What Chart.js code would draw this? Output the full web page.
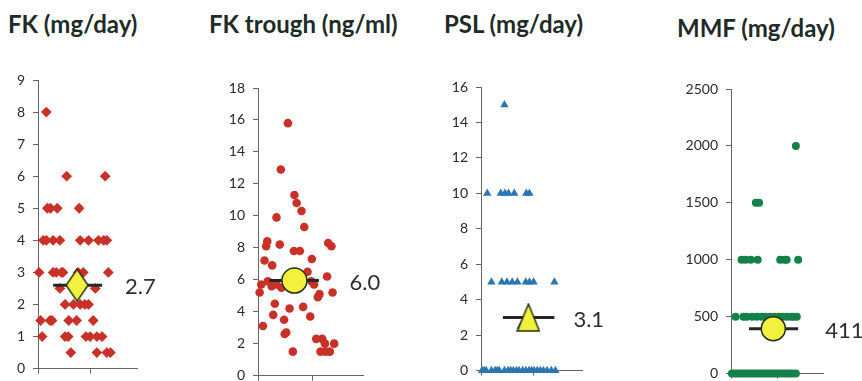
<!DOCTYPE html>
<html>
<head>
<meta charset="utf-8">
<script src="https://cdn.jsdelivr.net/npm/chart.js@4.4.1/dist/chart.umd.min.js"></script>
<style>
  body { margin: 0; width: 862px; height: 381px; overflow: hidden; background: #fff; position: relative; }
  .title { position: absolute; font: bold 24px Lato; line-height: 24px; color: #1e2b27; white-space: nowrap; }
  canvas { position: absolute; }
</style>
</head>
<body>
<div class="title" style="left:8px;top:12px">FK (mg/day)</div>
<div class="title" style="left:209px;top:12px">FK trough (ng/ml)</div>
<div class="title" style="left:444px;top:12px">PSL (mg/day)</div>
<div class="title" style="left:677px;top:16px">MMF (mg/day)</div>
<canvas id="fk"></canvas>
<canvas id="trough"></canvas>
<canvas id="psl"></canvas>
<canvas id="mmf"></canvas>
<script>
// [jitter x, value] pairs
const fkDose = [
    [0.16, 8],
    [0.55, 6], [1.29, 6],
    [0.18, 5], [0.24, 5], [0.37, 5], [0.79, 5],
    [0.10, 4], [0.16, 4], [0.29, 4], [0.42, 4], [0.81, 4], [0.97, 4], [1.16, 4], [1.26, 4], [1.32, 4],
    [0.02, 3], [0.29, 3], [0.35, 3], [0.45, 3], [0.48, 3], [0.77, 3], [0.87, 3], [1.35, 3],
    [0.42, 2.5], [1.10, 2.5],
    [0.52, 2], [0.68, 2], [0.81, 2], [0.90, 2], [0.97, 2],
    [0.05, 1.5], [0.23, 1.5], [0.27, 1.5], [0.59, 1.5], [0.74, 1.5], [1.06, 1.5],
    [0.08, 1], [0.52, 1], [0.58, 1], [0.92, 1], [1.00, 1], [1.13, 1], [1.23, 1],
    [0.63, 0.5], [1.13, 0.5], [1.32, 0.5], [1.39, 0.5]
];
const fkTrough = [
    [0.55, 15.8], [0.42, 12.9], [0.67, 11.3], [0.71, 10.8], [0.80, 10.3], [0.34, 9.9], [0.85, 9.3],
    [0.17, 8.4], [0.15, 8.1], [0.40, 8.2], [1.29, 8.3], [1.35, 8.1], [0.66, 7.8], [0.77, 7.8],
    [0.12, 7.2], [0.26, 6.9], [0.99, 7.3], [0.91, 6.5],
    [0.06, 5.7], [0.18, 5.9], [0.25, 5.6], [0.34, 5.7], [0.43, 5.5], [0.98, 5.9], [1.03, 5.7], [1.27, 6.2],
    [0.03, 5.2], [1.13, 5.1], [1.10, 4.9], [1.37, 5.2],
    [0.31, 4.5], [0.83, 4.3], [0.58, 4.2], [0.28, 3.8], [0.96, 3.7], [0.48, 3.5], [0.09, 3.1],
    [0.52, 2.7], [0.49, 2.6], [1.07, 2.3], [1.18, 2.3], [1.23, 2.0], [1.40, 2.0],
    [0.64, 1.5], [1.15, 1.5], [1.24, 1.5], [1.32, 1.5]
];
const pslDose = [
    [0.45, 15],
    [0.12, 10], [0.38, 10], [0.46, 10], [0.53, 10], [0.64, 10], [0.87, 10], [0.93, 10],
    [0.20, 5], [0.40, 5], [0.50, 5], [0.60, 5], [0.70, 5], [0.86, 5], [0.93, 5], [1.01, 5], [1.41, 5],
    [0.76, 2.5],
    [0.02, 0], [0.06, 0], [0.10, 0], [0.20, 0], [0.27, 0], [0.31, 0], [0.35, 0], [0.45, 0],
    [0.52, 0], [0.57, 0], [0.62, 0], [0.68, 0], [0.73, 0], [0.80, 0], [0.86, 0], [0.92, 0],
    [0.97, 0], [1.02, 0], [1.08, 0], [1.14, 0], [1.20, 0], [1.27, 0], [1.35, 0], [1.43, 0]
];
const mmfDose = [
    [1.41, 2000],
    [0.54, 1500], [0.61, 1500],
    [0.23, 1000], [0.32, 1000], [0.43, 1000], [0.58, 1000], [1.07, 1000], [1.16, 1000], [1.21, 1000], [1.46, 1000],
    [0.10, 500], [0.27, 500], [0.34, 500], [0.46, 500], [0.56, 500], [0.67, 500], [0.75, 500], [0.85, 500],
    [0.94, 500], [1.03, 500], [1.12, 500], [1.21, 500], [1.30, 500], [1.36, 500], [1.43, 500],
    [0.02, 0], [0.08, 0], [0.14, 0], [0.20, 0], [0.26, 0], [0.32, 0], [0.38, 0], [0.44, 0],
    [0.50, 0], [0.56, 0], [0.62, 0], [0.68, 0], [0.74, 0], [0.80, 0], [0.86, 0], [0.92, 0],
    [0.98, 0], [1.04, 0], [1.10, 0], [1.16, 0], [1.22, 0], [1.28, 0], [1.34, 0], [1.41, 0]
];

// mean marker: [x, plotted value], bar span, printed label
const meanPoints = [[0.75, 2.6], [0.67, 5.95], [0.91, 3.0], [0.92, 395]];
const meanBars = [[0.29, 1.23], [0.21, 1.12], [0.42, 1.41], [0.39, 1.46]];
const meanLabels = ['2.7', '6.0', '3.1', '411'];

const YELLOW = '#f2f23e';
const OUTLINE = '#26301a';
const AXIS = '#666';
const AXIS_W = 50, PAD_TOP = 20, X_AXIS_H = 10, PAD_BOTTOM = 5, PAD_RIGHT = 50;

function makeMarker(shape, w, h) {
    const c = document.createElement('canvas');
    c.width = w + 2; c.height = h + 2;
    const g = c.getContext('2d');
    g.beginPath();
    if (shape === 'diamond') {
        g.moveTo(1 + w / 2, 1); g.lineTo(1 + w, 1 + h / 2); g.lineTo(1 + w / 2, 1 + h); g.lineTo(1, 1 + h / 2);
    } else {
        g.moveTo(1 + w / 2, 1); g.lineTo(1 + w, 1 + h); g.lineTo(1, 1 + h);
    }
    g.closePath();
    g.fillStyle = YELLOW; g.fill();
    g.lineWidth = 1.5; g.strokeStyle = OUTLINE; g.stroke();
    return c;
}

const meanLabel = {
    id: 'meanLabel',
    afterDatasetsDraw(chart, args, opts) {
        const pt = chart.getDatasetMeta(2).data[0];
        const { ctx } = chart;
        ctx.save();
        ctx.font = '22px Lato';
        ctx.fillStyle = '#2e2e2e';
        ctx.textBaseline = 'middle';
        ctx.fillText(opts.text, pt.x + opts.dx, pt.y + 2);
        ctx.restore();
    }
};

const panels = [
    { id: 'fk', data: fkDose, axisX: 38, top: 80, bottom: 370, xEnd: 137, xMax: 1.9, yMax: 9, yStep: 1,
      color: '#c93128', style: 'rectRot', radius: 5.4, mean: { style: makeMarker('diamond', 22, 32), radius: 12 }, dx: 48 },
    { id: 'trough', data: fkTrough, axisX: 258, top: 88, bottom: 377, xEnd: 363, xMax: 1.93, yMax: 18, yStep: 2,
      color: '#c93128', style: 'circle', radius: 4.3, mean: { style: 'circle', radius: 12.5 }, dx: 55 },
    { id: 'psl', data: pslDose, axisX: 481, top: 87, bottom: 372, xEnd: 582, xMax: 1.94, yMax: 16, yStep: 2,
      color: '#2a75b3', style: 'triangle', radius: 4.8, mean: { style: makeMarker('triangle', 22, 27), radius: 12 }, dx: 45 },
    { id: 'mmf', data: mmfDose, axisX: 731, top: 89, bottom: 375, xEnd: 823, xMax: 2.0, yMax: 2500, yStep: 500,
      color: '#14804a', style: 'circle', radius: 4, mean: { style: 'circle', radius: 12 }, dx: 52 }
];

function drawPanel(p, i) {
    const canvas = document.getElementById(p.id);
    canvas.width = AXIS_W + (p.xEnd - p.axisX) + PAD_RIGHT;
    canvas.height = PAD_TOP + (p.bottom - p.top) + X_AXIS_H + PAD_BOTTOM;
    canvas.style.left = (p.axisX - AXIS_W) + 'px';
    canvas.style.top = (p.top - PAD_TOP) + 'px';

    const [mx, my] = meanPoints[i];
    return new Chart(canvas, {
        type: 'scatter',
        data: {
            datasets: [
                { data: p.data.map(([x, y]) => ({ x, y })), pointStyle: p.style, pointRadius: p.radius,
                  backgroundColor: p.color, borderColor: p.color, borderWidth: 0, clip: false, order: 3 },
                { type: 'line', data: meanBars[i].map(x => ({ x, y: my })), borderColor: '#262626', borderWidth: 3,
                  pointRadius: 0, clip: false, order: 2 },
                { data: [{ x: mx, y: my }], pointStyle: p.mean.style, pointRadius: p.mean.radius,
                  backgroundColor: YELLOW, borderColor: OUTLINE, borderWidth: 1.5, clip: false, order: 1 }
            ]
        },
        options: {
            responsive: false,
            animation: false,
            events: [],
            layout: { padding: { top: PAD_TOP, right: PAD_RIGHT, left: 0, bottom: PAD_BOTTOM } },
            plugins: { legend: { display: false }, tooltip: { enabled: false }, meanLabel: { text: meanLabels[i], dx: p.dx } },
            scales: {
                x: { type: 'linear', min: 0, max: p.xMax,
                     afterFit: s => { s.height = X_AXIS_H; },
                     afterBuildTicks: s => { s.ticks = [{ value: 0 }, { value: 1 }]; },
                     ticks: { display: false },
                     grid: { drawOnChartArea: false, tickLength: 5, color: AXIS },
                     border: { color: AXIS } },
                y: { min: 0, max: p.yMax,
                     afterFit: s => { s.width = AXIS_W; },
                     ticks: { stepSize: p.yStep, color: '#2b2b2b', padding: 8, font: { family: 'Lato', size: 14 }, callback: v => v },
                     grid: { drawOnChartArea: false, tickLength: 5, color: AXIS },
                     border: { color: AXIS } }
            }
        },
        plugins: [meanLabel]
    });
}

Promise.all([document.fonts.load('14px Lato'), document.fonts.load('22px Lato'), document.fonts.load('bold 24px Lato')])
    .catch(() => {})
    .then(() => panels.forEach(drawPanel));
</script>
</body>
</html>
